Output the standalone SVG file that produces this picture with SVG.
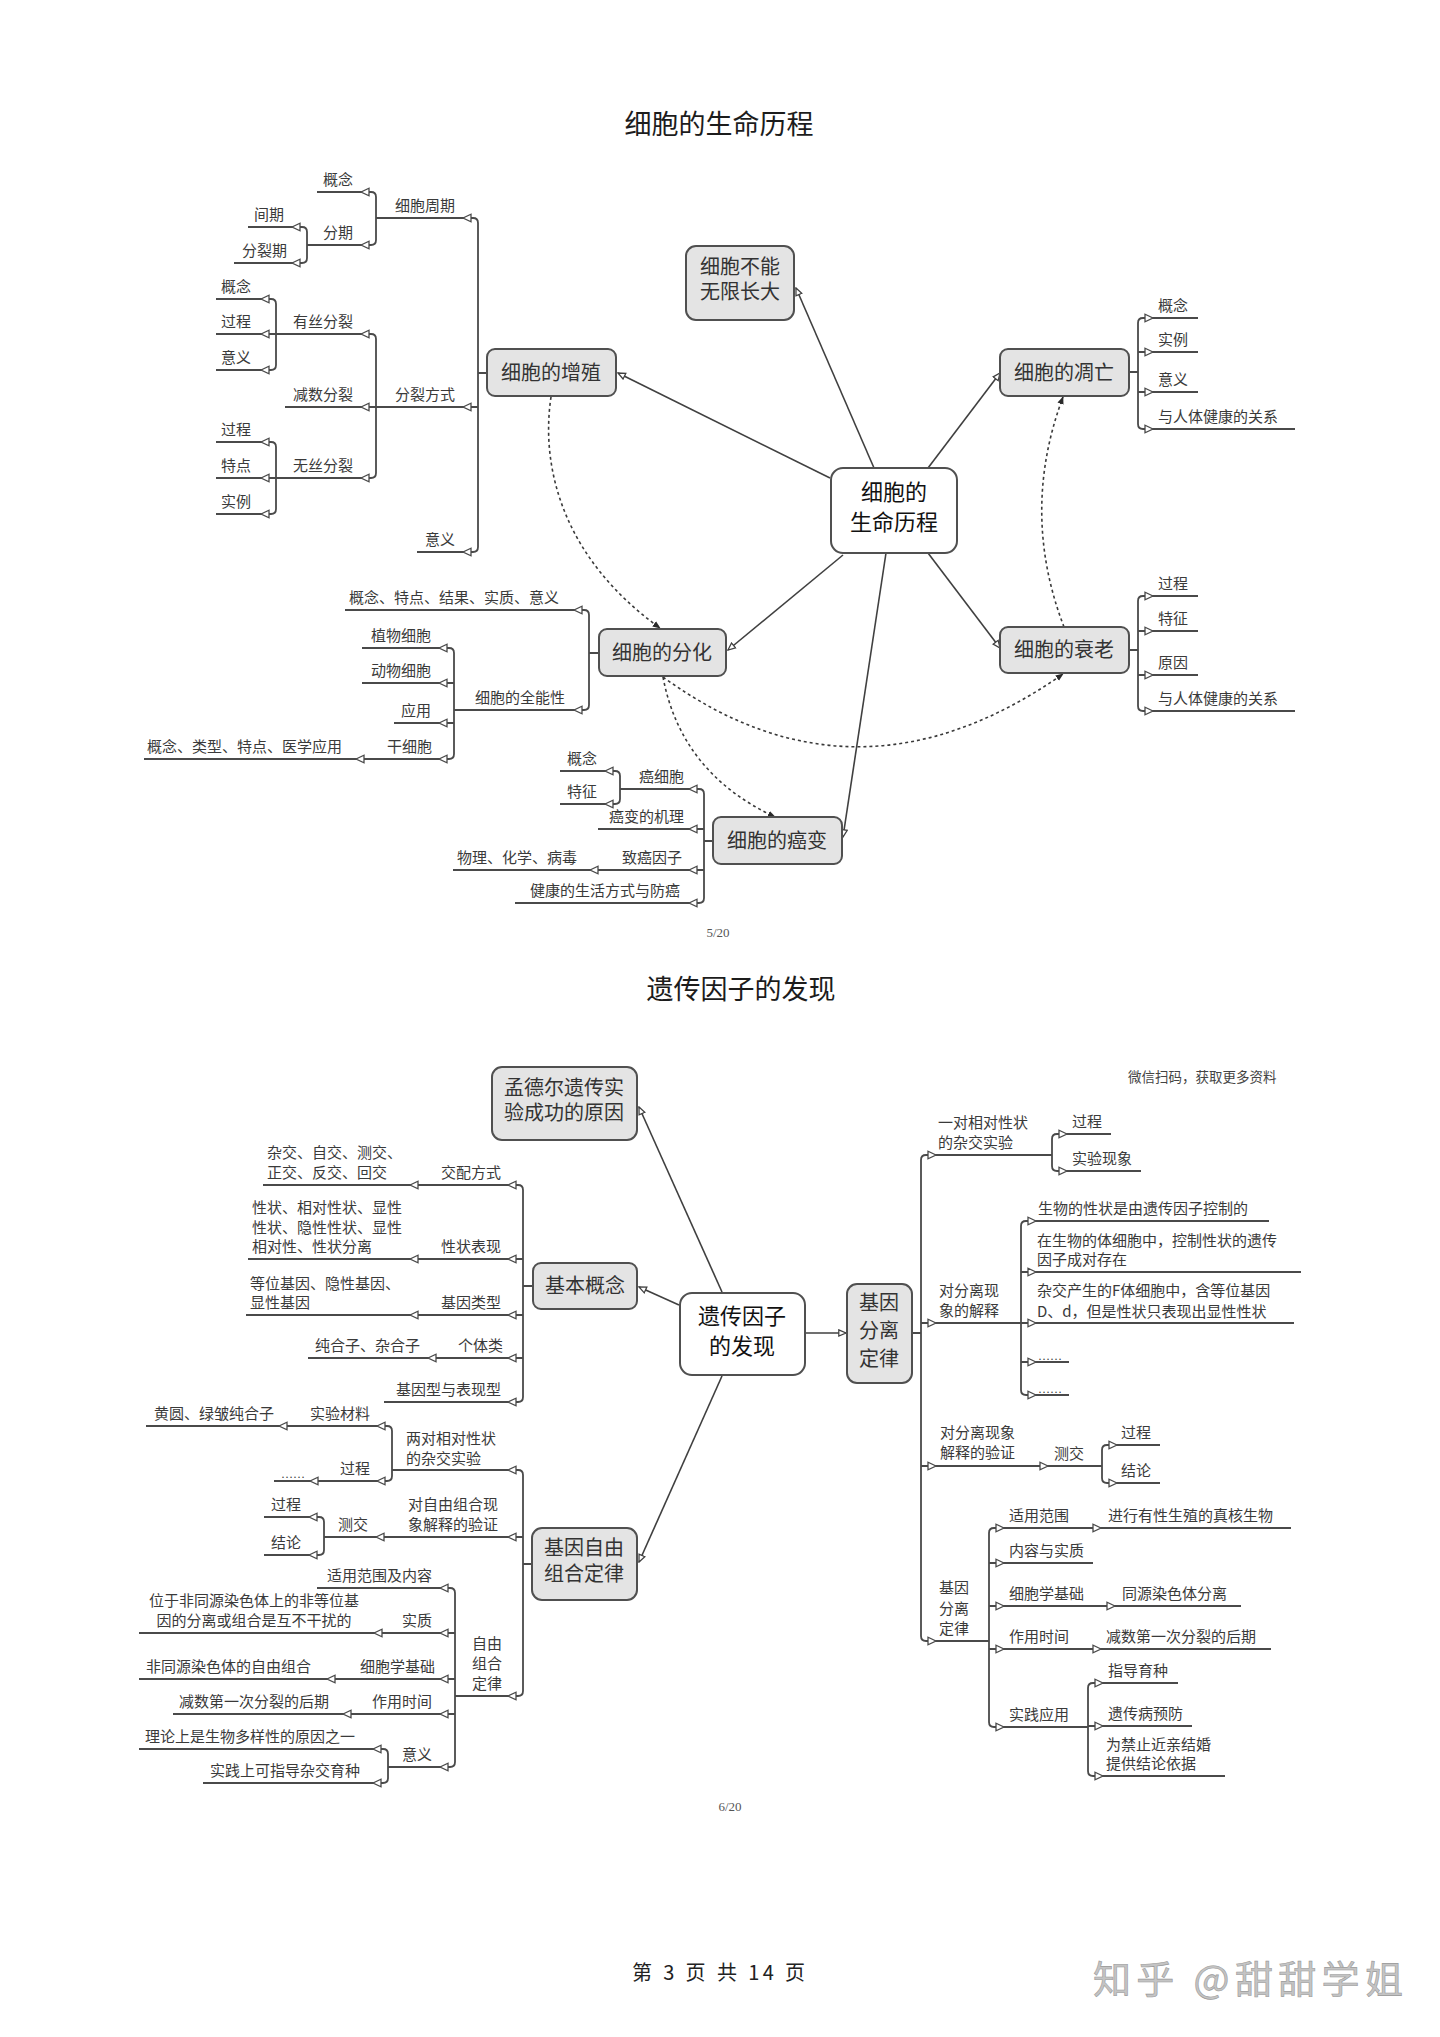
<svg xmlns="http://www.w3.org/2000/svg" xmlns:xlink="http://www.w3.org/1999/xlink" width="1440" height="2037" viewBox="0 0 1440 2037">
<style>
text{font-family:"Noto Sans CJK SC","Noto Sans",sans-serif}
.tt{font-size:27px;fill:#1c1c1c;text-anchor:middle}
.lb{font-size:15px;fill:#3a3a3a}
.e{text-anchor:end}
.m{text-anchor:middle}
.nd{font-size:20px;fill:#333;text-anchor:middle}
.ct{font-size:22px;fill:#111;text-anchor:middle}
.box{fill:#e4e4e4;stroke:#505050;stroke-width:2}
.cbox{fill:#fff;stroke:#505050;stroke-width:2}
.ln{fill:none;stroke:#4a4a4a;stroke-width:1.8}
.cn{fill:none;stroke:#404040;stroke-width:1.6;marker-end:url(#oa)}
.dt{fill:none;stroke:#3a3a3a;stroke-width:1.6;stroke-dasharray:3 3;marker-end:url(#da)}
.tri{fill:#fff;stroke:#4a4a4a;stroke-width:1.3}
.pg{font-family:"Liberation Serif",serif;font-size:13px;fill:#555;text-anchor:middle}
.dots{font-family:"Liberation Serif",serif;font-size:12px;fill:#3a3a3a}
</style>
<defs>
<marker id="oa" viewBox="0 0 10 10" refX="9" refY="5" markerWidth="9" markerHeight="9" markerUnits="userSpaceOnUse" orient="auto"><path d="M1,1.5 L9,5 L1,8.5 Z" fill="#fff" stroke="#404040" stroke-width="1.4"/></marker>
<marker id="da" viewBox="0 0 10 10" refX="9" refY="5" markerWidth="8" markerHeight="8" markerUnits="userSpaceOnUse" orient="auto"><path d="M0,1 L10,5 L0,9 Z" fill="#2a2a2a"/></marker>
<path id="tL" class="tri" d="M-5,0 L3,-3.8 L3,3.8 Z"/>
<path id="tR" class="tri" d="M5,0 L-3,-3.8 L-3,3.8 Z"/>
</defs>
<rect width="1440" height="2037" fill="#fff"/>

<text class="tt" x="719" y="134">细胞的生命历程</text>
<text class="tt" x="741" y="999">遗传因子的发现</text>

<g id="connectors">
<path class="cn" d="M830,478 L618,373"/>
<path class="cn" d="M874,468 L796,288"/>
<path class="cn" d="M928,468 L1000,373"/>
<path class="cn" d="M928,553 L1000,648"/>
<path class="cn" d="M843,555 L728,650"/>
<path class="cn" d="M886,553 L843,837"/>
<path class="dt" d="M551,397 C540,470 565,560 660,628"/>
<path class="dt" d="M663,677 Q857,818 1063,674"/>
<path class="dt" d="M663,677 Q681,773 775,817"/>
<path class="dt" d="M1064,627 Q1020,512 1063,397"/>
<path class="ln" d="M376,218 H473 Q478,218 478,223 V547 Q478,552 473,552 H417 M376,407 H478 M478,373 H487"/>
<path class="ln" d="M317,192 H371 Q376,192 376,197 V240 Q376,245 371,245 H307"/>
<path class="ln" d="M248,227 H302 Q307,227 307,232 V258 Q307,263 302,263 H234"/>
<path class="ln" d="M276,334 H371 Q376,334 376,339 V473 Q376,478 371,478 H276 M285,407 H376"/>
<path class="ln" d="M216,299 H271 Q276,299 276,304 V365 Q276,370 271,370 H216 M216,334 H276"/>
<path class="ln" d="M216,442 H271 Q276,442 276,447 V509 Q276,514 271,514 H216 M216,478 H276"/>
<path class="ln" d="M345,610 H584 Q589,610 589,615 V705 Q589,710 584,710 H454 M589,653 H599"/>
<path class="ln" d="M362,648 H449 Q454,648 454,653 V754 Q454,759 449,759 H144 M362,683 H454 M394,723 H454"/>
<path class="ln" d="M620,789 H699 Q704,789 704,794 V898 Q704,903 699,903 H515 M598,829 H704 M453,870 H704 M704,841 H713"/>
<path class="ln" d="M560,771 H615 Q620,771 620,776 V799 Q620,804 615,804 H560"/>
<path class="ln" d="M1198,318 H1143 Q1138,318 1138,323 V424 Q1138,429 1143,429 H1295 M1138,352 H1198 M1138,392 H1198 M1129,372 H1138"/>
<path class="ln" d="M1198,596 H1143 Q1138,596 1138,601 V706 Q1138,711 1143,711 H1295 M1138,631 H1198 M1138,675 H1198 M1129,650 H1138"/>
<use href="#tL" x="468" y="218"/><use href="#tL" x="468" y="407"/><use href="#tL" x="468" y="552"/>
<use href="#tL" x="366" y="192"/><use href="#tL" x="366" y="245"/><use href="#tL" x="366" y="334"/><use href="#tL" x="366" y="407"/><use href="#tL" x="366" y="478"/>
<use href="#tL" x="297" y="227"/><use href="#tL" x="297" y="263"/>
<use href="#tL" x="266" y="299"/><use href="#tL" x="266" y="334"/><use href="#tL" x="266" y="370"/><use href="#tL" x="266" y="442"/><use href="#tL" x="266" y="478"/><use href="#tL" x="266" y="514"/>
<use href="#tL" x="579" y="610"/><use href="#tL" x="579" y="710"/>
<use href="#tL" x="444" y="648"/><use href="#tL" x="444" y="683"/><use href="#tL" x="444" y="723"/><use href="#tL" x="444" y="759"/><use href="#tL" x="361" y="759"/>
<use href="#tL" x="694" y="789"/><use href="#tL" x="694" y="829"/><use href="#tL" x="694" y="870"/><use href="#tL" x="694" y="903"/><use href="#tL" x="595" y="870"/>
<use href="#tL" x="610" y="771"/><use href="#tL" x="610" y="804"/>
<use href="#tR" x="1148" y="318"/><use href="#tR" x="1148" y="352"/><use href="#tR" x="1148" y="392"/><use href="#tR" x="1148" y="429"/>
<use href="#tR" x="1148" y="596"/><use href="#tR" x="1148" y="631"/><use href="#tR" x="1148" y="675"/><use href="#tR" x="1148" y="711"/>

<path class="cn" d="M722,1292 L639,1107"/>
<path class="cn" d="M679,1305 L639,1287"/>
<path class="cn" d="M722,1376 L639,1562"/>
<path class="cn" d="M805,1333 L846,1333"/>
<path class="ln" d="M263,1185 H518 Q523,1185 523,1190 V1397 Q523,1402 518,1402 H384 M248,1259 H523 M246,1315 H523 M308,1358 H523 M523,1286 H533"/>
<path class="ln" d="M392,1470 H518 Q523,1470 523,1475 V1691 Q523,1696 518,1696 H455 M324,1537 H523 M523,1564 H532"/>
<path class="ln" d="M146,1426 H387 Q392,1426 392,1431 V1476 Q392,1481 387,1481 H274"/>
<path class="ln" d="M264,1517 H319 Q324,1517 324,1522 V1550 Q324,1555 319,1555 H264"/>
<path class="ln" d="M317,1588 H450 Q455,1588 455,1593 V1762 Q455,1767 450,1767 H388 M139,1633 H455 M139,1679 H455 M173,1714 H455"/>
<path class="ln" d="M139,1749 H383 Q388,1749 388,1754 V1778 Q388,1783 383,1783 H203"/>
<path class="ln" d="M912,1333 H921 M1052,1155 H926 Q921,1155 921,1160 V1636 Q921,1641 926,1641 H989 M921,1323 H1021 M921,1466 H1102"/>
<path class="ln" d="M1111,1134 H1057 Q1052,1134 1052,1139 V1166 Q1052,1171 1057,1171 H1141"/>
<path class="ln" d="M1269,1221 H1026 Q1021,1221 1021,1226 V1390 Q1021,1395 1026,1395 H1069 M1021,1272 H1301 M1021,1323 H1294 M1021,1362 H1069"/>
<path class="ln" d="M1160,1445 H1107 Q1102,1445 1102,1450 V1478 Q1102,1483 1107,1483 H1160"/>
<path class="ln" d="M1291,1528 H994 Q989,1528 989,1533 V1722 Q989,1727 994,1727 H1088 M989,1563 H1093 M989,1606 H1241 M989,1649 H1271"/>
<path class="ln" d="M1178,1683 H1093 Q1088,1683 1088,1688 V1771 Q1088,1776 1093,1776 H1225 M1088,1726 H1192"/>
<use href="#tL" x="513" y="1185"/><use href="#tL" x="513" y="1259"/><use href="#tL" x="513" y="1315"/><use href="#tL" x="513" y="1358"/><use href="#tL" x="513" y="1402"/>
<use href="#tL" x="415" y="1185"/><use href="#tL" x="415" y="1259"/><use href="#tL" x="415" y="1315"/><use href="#tL" x="433" y="1358"/>
<use href="#tL" x="513" y="1470"/><use href="#tL" x="513" y="1537"/><use href="#tL" x="513" y="1696"/><use href="#tL" x="381" y="1537"/>
<use href="#tL" x="382" y="1426"/><use href="#tL" x="382" y="1481"/><use href="#tL" x="284" y="1426"/><use href="#tL" x="315" y="1481"/>
<use href="#tL" x="314" y="1517"/><use href="#tL" x="314" y="1555"/>
<use href="#tL" x="445" y="1588"/><use href="#tL" x="445" y="1633"/><use href="#tL" x="445" y="1679"/><use href="#tL" x="445" y="1714"/><use href="#tL" x="445" y="1767"/>
<use href="#tL" x="379" y="1633"/><use href="#tL" x="332" y="1679"/><use href="#tL" x="348" y="1714"/>
<use href="#tL" x="378" y="1749"/><use href="#tL" x="378" y="1783"/>
<use href="#tR" x="931" y="1155"/><use href="#tR" x="931" y="1323"/><use href="#tR" x="931" y="1466"/><use href="#tR" x="931" y="1641"/><use href="#tR" x="1043" y="1466"/>
<use href="#tR" x="1062" y="1134"/><use href="#tR" x="1062" y="1171"/>
<use href="#tR" x="1031" y="1221"/><use href="#tR" x="1031" y="1272"/><use href="#tR" x="1031" y="1323"/><use href="#tR" x="1031" y="1362"/><use href="#tR" x="1031" y="1395"/>
<use href="#tR" x="1112" y="1445"/><use href="#tR" x="1112" y="1483"/>
<use href="#tR" x="999" y="1528"/><use href="#tR" x="999" y="1563"/><use href="#tR" x="999" y="1606"/><use href="#tR" x="999" y="1649"/><use href="#tR" x="999" y="1727"/>
<use href="#tR" x="1096" y="1528"/><use href="#tR" x="1110" y="1606"/><use href="#tR" x="1096" y="1649"/>
<use href="#tR" x="1098" y="1683"/><use href="#tR" x="1098" y="1726"/><use href="#tR" x="1098" y="1776"/>
</g>

<g id="center1"><rect class="cbox" x="831" y="468" width="126" height="85" rx="12"/><text class="ct" x="894" y="500">细胞的</text><text class="ct" x="894" y="530">生命历程</text></g>
<g id="zengzhi"><rect class="box" x="487" y="349" width="129" height="47" rx="8"/><text class="nd" x="551" y="380">细胞的增殖</text></g>
<g id="buneng"><rect class="box" x="686" y="246" width="108" height="74" rx="10"/><text class="nd" x="740" y="274">细胞不能</text><text class="nd" x="740" y="299">无限长大</text></g>
<g id="diaowang"><rect class="box" x="1000" y="349" width="129" height="47" rx="8"/><text class="nd" x="1064" y="380">细胞的凋亡</text></g>
<g id="shuailao"><rect class="box" x="1000" y="627" width="129" height="46" rx="8"/><text class="nd" x="1064" y="657">细胞的衰老</text></g>
<g id="fenhua"><rect class="box" x="599" y="629" width="127" height="47" rx="8"/><text class="nd" x="662" y="660">细胞的分化</text></g>
<g id="aibian"><rect class="box" x="713" y="817" width="129" height="47" rx="8"/><text class="nd" x="777" y="848">细胞的癌变</text></g>

<g id="labels1" class="lb">
<text class="e" x="353" y="185">概念</text>
<text class="e" x="455" y="211">细胞周期</text>
<text class="e" x="284" y="220">间期</text>
<text class="e" x="353" y="238">分期</text>
<text class="e" x="287" y="256">分裂期</text>
<text class="e" x="251" y="292">概念</text>
<text class="e" x="251" y="327">过程</text>
<text class="e" x="251" y="363">意义</text>
<text class="e" x="353" y="327">有丝分裂</text>
<text class="e" x="353" y="400">减数分裂</text>
<text class="e" x="455" y="400">分裂方式</text>
<text class="e" x="251" y="435">过程</text>
<text class="e" x="251" y="471">特点</text>
<text class="e" x="251" y="507">实例</text>
<text class="e" x="353" y="471">无丝分裂</text>
<text class="e" x="455" y="545">意义</text>
<text class="e" x="559" y="603">概念、特点、结果、实质、意义</text>
<text class="e" x="565" y="703">细胞的全能性</text>
<text class="e" x="431" y="641">植物细胞</text>
<text class="e" x="431" y="676">动物细胞</text>
<text class="e" x="431" y="716">应用</text>
<text class="e" x="432" y="752">干细胞</text>
<text class="e" x="342" y="752">概念、类型、特点、医学应用</text>
<text class="e" x="597" y="764">概念</text>
<text class="e" x="597" y="797">特征</text>
<text class="e" x="684" y="782">癌细胞</text>
<text class="e" x="684" y="822">癌变的机理</text>
<text class="e" x="682" y="863">致癌因子</text>
<text class="e" x="577" y="863">物理、化学、病毒</text>
<text class="e" x="680" y="896">健康的生活方式与防癌</text>
<text x="1158" y="311">概念</text>
<text x="1158" y="345">实例</text>
<text x="1158" y="385">意义</text>
<text x="1158" y="422">与人体健康的关系</text>
<text x="1158" y="589">过程</text>
<text x="1158" y="624">特征</text>
<text x="1158" y="668">原因</text>
<text x="1158" y="704">与人体健康的关系</text>
</g>
<text class="pg" x="718" y="937">5/20</text>

<g id="center2"><rect class="cbox" x="680" y="1293" width="125" height="82" rx="12"/><text class="ct" x="742" y="1324">遗传因子</text><text class="ct" x="742" y="1354">的发现</text></g>
<g id="mengdeer"><rect class="box" x="492" y="1067" width="145" height="73" rx="10"/><text class="nd" x="564" y="1095">孟德尔遗传实</text><text class="nd" x="564" y="1120">验成功的原因</text></g>
<g id="jibengainian"><rect class="box" x="533" y="1263" width="104" height="46" rx="8"/><text class="nd" x="585" y="1293">基本概念</text></g>
<g id="ziyouzuhe"><rect class="box" x="532" y="1528" width="105" height="72" rx="10"/><text class="nd" x="584" y="1555">基因自由</text><text class="nd" x="584" y="1581">组合定律</text></g>
<g id="fenlidinglv"><rect class="box" x="847" y="1284" width="65" height="99" rx="10"/><text class="nd" x="879" y="1310">基因</text><text class="nd" x="879" y="1338">分离</text><text class="nd" x="879" y="1366">定律</text></g>

<g id="labels2" class="lb">
<text class="e" x="501" y="1178">交配方式</text>
<text x="267" y="1158">杂交、自交、测交、</text>
<text x="267" y="1178">正交、反交、回交</text>
<text class="e" x="501" y="1252">性状表现</text>
<text x="252" y="1213">性状、相对性状、显性</text>
<text x="252" y="1233">性状、隐性性状、显性</text>
<text x="252" y="1252">相对性、性状分离</text>
<text class="e" x="501" y="1308">基因类型</text>
<text x="250" y="1289">等位基因、隐性基因、</text>
<text x="250" y="1308">显性基因</text>
<text class="e" x="503" y="1351">个体类</text>
<text x="315" y="1351">纯合子、杂合子</text>
<text class="e" x="501" y="1395">基因型与表现型</text>
<text x="406" y="1444">两对相对性状</text>
<text x="406" y="1464">的杂交实验</text>
<text class="e" x="370" y="1419">实验材料</text>
<text x="154" y="1419">黄圆、绿皱纯合子</text>
<text class="e" x="370" y="1474">过程</text>
<text class="dots" x="281" y="1478">……</text>
<text x="408" y="1510">对自由组合现</text>
<text x="408" y="1530">象解释的验证</text>
<text class="e" x="368" y="1530">测交</text>
<text class="e" x="301" y="1510">过程</text>
<text class="e" x="301" y="1548">结论</text>
<text x="472" y="1649">自由</text>
<text x="472" y="1669">组合</text>
<text x="472" y="1689">定律</text>
<text class="e" x="432" y="1581">适用范围及内容</text>
<text class="e" x="432" y="1626">实质</text>
<text class="m" x="254" y="1606">位于非同源染色体上的非等位基</text>
<text class="m" x="254" y="1626">因的分离或组合是互不干扰的</text>
<text class="e" x="435" y="1672">细胞学基础</text>
<text x="146" y="1672">非同源染色体的自由组合</text>
<text class="e" x="432" y="1707">作用时间</text>
<text x="179" y="1707">减数第一次分裂的后期</text>
<text class="e" x="432" y="1760">意义</text>
<text x="145" y="1742">理论上是生物多样性的原因之一</text>
<text x="210" y="1776">实践上可指导杂交育种</text>
<text x="938" y="1128">一对相对性状</text>
<text x="938" y="1148">的杂交实验</text>
<text x="1072" y="1127">过程</text>
<text x="1072" y="1164">实验现象</text>
<text x="1038" y="1214">生物的性状是由遗传因子控制的</text>
<text x="1037" y="1246">在生物的体细胞中，控制性状的遗传</text>
<text x="1037" y="1265">因子成对存在</text>
<text x="1037" y="1296">杂交产生的F体细胞中，含等位基因</text>
<text x="1037" y="1317">D、d，但是性状只表现出显性性状</text>
<text x="939" y="1296">对分离现</text>
<text x="939" y="1316">象的解释</text>
<text class="dots" x="1038" y="1360">……</text>
<text class="dots" x="1038" y="1393">……</text>
<text x="940" y="1438">对分离现象</text>
<text x="940" y="1458">解释的验证</text>
<text x="1054" y="1459">测交</text>
<text x="1121" y="1438">过程</text>
<text x="1121" y="1476">结论</text>
<text x="939" y="1593">基因</text>
<text x="939" y="1614">分离</text>
<text x="939" y="1634">定律</text>
<text x="1009" y="1521">适用范围</text>
<text x="1108" y="1521">进行有性生殖的真核生物</text>
<text x="1009" y="1556">内容与实质</text>
<text x="1009" y="1599">细胞学基础</text>
<text x="1122" y="1599">同源染色体分离</text>
<text x="1009" y="1642">作用时间</text>
<text x="1106" y="1642">减数第一次分裂的后期</text>
<text x="1009" y="1720">实践应用</text>
<text x="1108" y="1676">指导育种</text>
<text x="1108" y="1719">遗传病预防</text>
<text x="1106" y="1750">为禁止近亲结婚</text>
<text x="1106" y="1769">提供结论依据</text>
</g>
<text x="1128" y="1082" style="font-size:13.5px;fill:#444">微信扫码，获取更多资料</text>
<text class="pg" x="730" y="1811">6/20</text>

<text x="632" y="1980" textLength="173" style="font-size:20px;fill:#222">第 3 页 共 14 页</text>
<text x="1093" y="1993" textLength="310" style="font-size:38px;fill:#c4c4c4;stroke:#9a9a9a;stroke-width:0.6">知乎 @甜甜学姐</text>
</svg>
